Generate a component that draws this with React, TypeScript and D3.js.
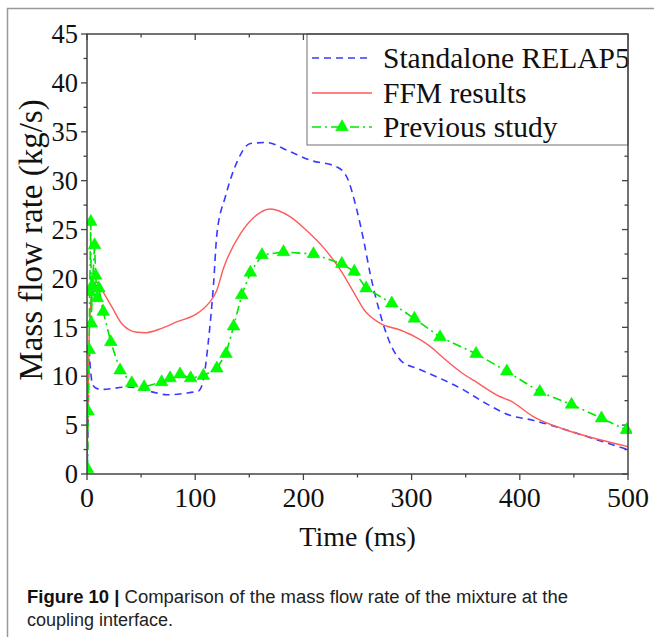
import React from "react";
import * as d3 from "d3";

// ---- data ----
const relapX = [0, 1, 2, 3, 5, 8, 14, 38, 60, 74, 90, 103, 107.5, 112, 117, 120, 128, 138.6, 151, 166, 185, 206, 231, 240, 249.4, 255.5, 261.7, 270.9, 280, 291, 305, 323, 348, 369, 391, 412, 443, 474, 500];
const relapY = [0, 5, 12.5, 11, 9.2, 8.8, 8.65, 8.9, 8.4, 8.1, 8.25, 8.5, 9.6, 13.4, 19.5, 24.5, 28.4, 31.9, 33.8, 33.9, 33.1, 32.1, 31.4, 30.4, 27, 24, 20.5, 16.4, 13.4, 11.5, 10.8, 9.95, 8.6, 7.2, 6.0, 5.5, 4.5, 3.4, 2.5];

const ffmX = [0, 1, 2, 4, 7, 10, 15, 23, 32, 46, 54, 69, 84, 100, 112, 120, 126, 142, 157, 169, 188, 203, 219, 234, 249, 256, 262, 271, 290, 302, 320, 326, 351, 357, 382, 391, 412, 443, 474, 500];
const ffmY = [0, 8, 14, 18, 19.5, 19.6, 18.6, 17.1, 15.4, 14.5, 14.45, 14.9, 15.6, 16.3, 17.4, 18.8, 21, 24.6, 26.5, 27.1, 26.3, 24.9, 23.1, 20.9, 18.1, 16.8, 16.1, 15.4, 14.7, 14.1, 12.8, 12.2, 10, 9.6, 7.9, 7.5, 5.9, 4.5, 3.5, 2.8];

const prevX = [0.5, 1, 2, 2.5, 3.5, 4, 5, 7, 8, 9.5, 11, 15, 22, 30.6, 41.4, 52.8, 69, 76.8, 86, 95.8, 107.5, 120, 128.5, 135.5, 143, 151, 161.7, 181.6, 209.3, 235.5, 247, 258, 281.7, 302.6, 326.3, 359.6, 388, 418.5, 447.8, 475.5, 498.6];
const prevY = [0.5, 6.4, 12.7, 18.6, 25.8, 15.4, 19.3, 23.4, 20.3, 18, 19, 16.6, 13.5, 10.6, 9.3, 8.9, 9.4, 9.8, 10.2, 9.8, 10.05, 10.8, 12.3, 15.1, 18.3, 20.6, 22.4, 22.7, 22.5, 21.5, 20.7, 19, 17.45, 15.9, 14.0, 12.3, 10.5, 8.4, 7.1, 5.7, 4.5];

const xMajor = [0, 100, 200, 300, 400, 500];
const xMinor = [50, 150, 250, 350, 450];
const yMajor = [0, 5, 10, 15, 20, 25, 30, 35, 40, 45];
const yMinor = [2.5, 7.5, 12.5, 17.5, 22.5, 27.5, 32.5, 37.5, 42.5];

const legendLabels = ["Standalone RELAP5", "FFM results", "Previous study"];
const xTitle = "Time (ms)";
const yTitle = "Mass flow rate (kg/s)";

const BLUE = "#3a3aff";
const RED = "#ff5a5a";
const GREEN = "#00e600";
const GREEN_FILL = "#00ff00";

export default function App() {
  const W = 654, H = 637;
  const L = 87, R = 628, T = 34, B = 474;
  const x = d3.scaleLinear().domain([0, 500]).range([L, R]);
  const y = d3.scaleLinear().domain([0, 45]).range([B, T]);

  const pts = (xs: number[], ys: number[]) => xs.map((v, i) => [v, ys[i]] as [number, number]);
  const smooth = d3.line<[number, number]>().x(d => x(d[0])).y(d => y(d[1])).curve(d3.curveMonotoneX);
  const straight = d3.line<[number, number]>().x(d => x(d[0])).y(d => y(d[1]));
  const tri = d3.symbol().type(d3.symbolTriangle).size(70)();

  const serif = "'Liberation Serif', 'Times New Roman', serif";
  const sans = "'Liberation Sans', Arial, sans-serif";
  const axisColor = "#444";

  const legendY = [58, 93, 127];

  return (
    <svg width={W} height={H} style={{ position: "absolute", left: 0, top: 0, background: "#fff" }}>
      <rect x={0} y={0} width={W} height={H} fill="#fff" />
      {/* figure frame */}
      <path d={`M7.5,${H} L7.5,8.5 L${W},8.5`} fill="none" stroke="#999" strokeWidth={1.5} />

      <defs>
        <clipPath id="plotclip">
          <rect x={L} y={T - 8} width={R - L + 4} height={B - T + 8} />
        </clipPath>
      </defs>

      {/* ticks */}
      <g stroke={axisColor} strokeWidth={1.3}>
        {xMajor.map(v => <line key={"xb" + v} x1={x(v)} x2={x(v)} y1={B} y2={B + 6} />)}
        {xMinor.map(v => <line key={"xbm" + v} x1={x(v)} x2={x(v)} y1={B} y2={B + 3.5} />)}
        {xMajor.map(v => <line key={"xt" + v} x1={x(v)} x2={x(v)} y1={T} y2={T + 6} />)}
        {xMinor.map(v => <line key={"xtm" + v} x1={x(v)} x2={x(v)} y1={T} y2={T + 3.5} />)}
        {yMajor.map(v => <line key={"yl" + v} x1={L - 6} x2={L} y1={y(v)} y2={y(v)} />)}
        {yMinor.map(v => <line key={"ylm" + v} x1={L - 3.5} x2={L} y1={y(v)} y2={y(v)} />)}
        {yMajor.map(v => <line key={"yr" + v} x1={R - 6} x2={R} y1={y(v)} y2={y(v)} />)}
        {yMinor.map(v => <line key={"yrm" + v} x1={R - 3.5} x2={R} y1={y(v)} y2={y(v)} />)}
      </g>

      {/* tick labels */}
      <g fontFamily={serif} fontSize={28} fill="#111">
        {xMajor.map(v => (
          <text key={"xl" + v} x={x(v)} y={507} textAnchor="middle">{v}</text>
        ))}
        {yMajor.map(v => (
          <text key={"yl" + v} x={78} y={y(v)} dy="0.35em" textAnchor="end" fontSize={26.5}>{v}</text>
        ))}
        <text x={(L + R) / 2} y={546} textAnchor="middle">{xTitle}</text>
        <text transform={`translate(42,240) rotate(-90)`} textAnchor="middle" fontSize={33}>{yTitle}</text>
      </g>

      {/* series */}
      <g clipPath="url(#plotclip)">
        <path d={smooth(pts(relapX, relapY)) || ""} fill="none" stroke={BLUE} strokeWidth={1.6} strokeDasharray="7 5" />
        <path d={smooth(pts(ffmX, ffmY)) || ""} fill="none" stroke={RED} strokeWidth={1.4} />
        <path d={straight(pts(prevX, prevY)) || ""} fill="none" stroke={GREEN} strokeWidth={1.6} strokeDasharray="9 4 2 4" />
        {prevX.map((v, i) => (
          <path key={"m" + i} d={tri || ""} transform={`translate(${x(v)},${y(prevY[i])})`} fill={GREEN_FILL} stroke={GREEN} strokeWidth={0.5} />
        ))}
      </g>

      {/* legend */}
      <rect x={307} y={T} width={R - 307} height={111} fill="#fff" stroke="#888" strokeWidth={1.2} />
      <line x1={312} x2={372} y1={legendY[0]} y2={legendY[0]} stroke={BLUE} strokeWidth={1.6} strokeDasharray="7 5" />
      <line x1={312} x2={372} y1={legendY[1]} y2={legendY[1]} stroke={RED} strokeWidth={1.4} />
      <line x1={312} x2={372} y1={legendY[2]} y2={legendY[2]} stroke={GREEN} strokeWidth={1.6} strokeDasharray="9 4 2 4" />
      <path d={tri || ""} transform={`translate(342,${legendY[2]})`} fill={GREEN_FILL} stroke={GREEN} strokeWidth={0.5} />
      <g fontFamily={serif} fontSize={29.5} fill="#111">
        {legendLabels.map((t, i) => (
          <text key={t} x={383} y={legendY[i]} dy="0.35em">{t}</text>
        ))}
      </g>

      {/* plot frame */}
      <rect x={L} y={T} width={R - L} height={B - T} fill="none" stroke={axisColor} strokeWidth={1.5} />

      {/* caption */}
      <g fontFamily={sans} fontSize={18} fill="#222">
        <text x={27} y={603} textLength={541} lengthAdjust="spacingAndGlyphs">
          <tspan fontWeight="bold" fill="#111">Figure 10 |</tspan>
          <tspan> Comparison of the mass flow rate of the mixture at the</tspan>
        </text>
        <text x={27} y={626}>coupling interface.</text>
      </g>
    </svg>
  );
}
